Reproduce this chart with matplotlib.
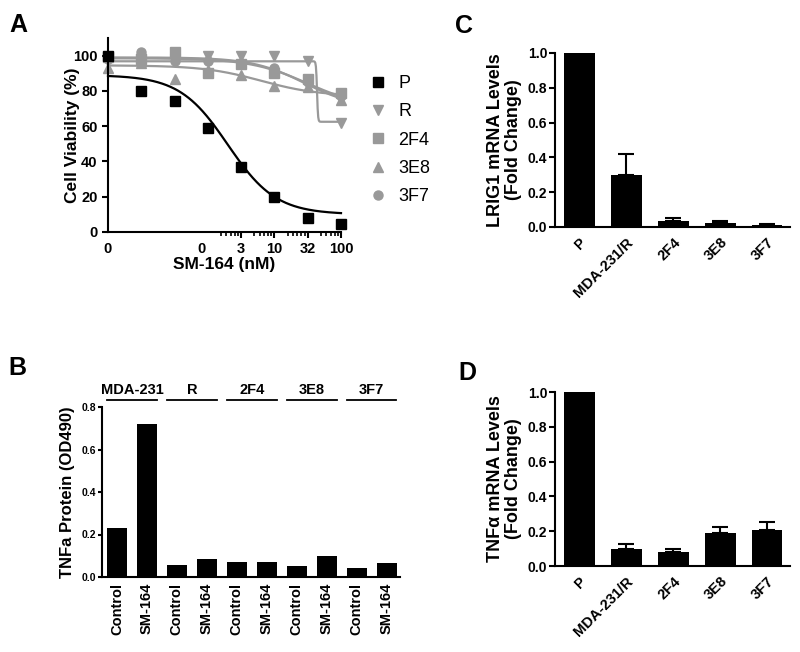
import numpy as np
import matplotlib
matplotlib.use("Agg")
import matplotlib.pyplot as plt
from matplotlib.lines import Line2D

plt.rcParams['font.family'] = ['Liberation Sans', 'DejaVu Sans']
plt.rcParams['font.weight'] = 'bold'
plt.rcParams['axes.labelweight'] = 'bold'
plt.rcParams['axes.linewidth'] = 1.5

BLACK = 'black'
GRAY = '#999999'

# ---- panel A: viability vs SM-164 (x in log10 nM, first point = no drug) ----
dose_log = [-1.5, -1.0, -0.5, 0.0, 0.5, 1.0, 1.5, 2.0]
viab_P = [100, 80, 74, 59, 37, 20, 8, 4.5]
viab_R = [97, 98, 98, 100, 100, 100, 97, 62]
viab_2F4 = [99, 98, 102, 90, 95, 90, 87, 79]
viab_3E8 = [93, 96, 87, 92, 89, 83, 82, 75]
viab_3F7 = [98, 102, 97, 97, 96, 93, 85, 77]

# fitted 4PL curves: top, bottom, logIC50, hill
fit_P = (89, 10, 0.3, 1.2)
fit_R = (96.8, 62.5, 1.64, 60)
fit_2F4 = (98.5, 70, 1.5, 1.0)
fit_3E8 = (94.5, 77, 0.8, 1.0)
fit_3F7 = (99, 70, 1.45, 1.1)

x_tick_pos = [-1.5, -0.1, 0.5, 1.0, 1.5, 2.0]
x_tick_lab = ['0', '0', '3', '10', '32', '100']

# ---- panel B: TNFa protein ----
cell_groups = ['MDA-231', 'R', '2F4', '3E8', '3F7']
treatments = ['Control', 'SM-164']
tnf_protein = [0.23, 0.72, 0.056, 0.085, 0.07, 0.07, 0.052, 0.099, 0.042, 0.066]

# ---- panels C and D: mRNA fold change ----
lines_cd = ['P', 'MDA-231/R', '2F4', '3E8', '3F7']
lrig1 = [1.0, 0.30, 0.033, 0.022, 0.01]
lrig1_err = [0, 0.12, 0.017, 0.012, 0.006]
tnfa_mrna = [1.0, 0.098, 0.08, 0.19, 0.205]
tnfa_err = [0, 0.027, 0.018, 0.035, 0.047]


def px_axes(fig, left, top, right, bottom):
    W, H = fig.get_size_inches() * fig.dpi
    return fig.add_axes([left / W, 1 - bottom / H, (right - left) / W,
                         (bottom - top) / H])


def style(ax):
    for s in ['top', 'right']:
        ax.spines[s].set_visible(False)
    ax.tick_params(direction='out', width=1.5, length=4, colors=BLACK)


def bold_ticks(ax):
    plt.setp(ax.get_xticklabels() + ax.get_yticklabels(), fontweight='bold')


def sigmoid(x, p):
    top, bot, ic, h = p
    return bot + (top - bot) / (1 + 10 ** ((x - ic) * h))


fig = plt.figure(figsize=(8, 6.52), dpi=100)

# ================= A =================
axA = px_axes(fig, 108, 38, 341, 232)
style(axA)
xs = np.linspace(-1.5, 2.0, 400)
series = [('P', viab_P, fit_P, BLACK, 's'),
          ('R', viab_R, fit_R, GRAY, 'v'),
          ('2F4', viab_2F4, fit_2F4, GRAY, 's'),
          ('3E8', viab_3E8, fit_3E8, GRAY, '^'),
          ('3F7', viab_3F7, fit_3F7, GRAY, 'o')]
for name, vals, fit, col, mk in series[::-1]:
    axA.plot(xs, sigmoid(xs, fit), color=col, lw=1.6, clip_on=False)
    axA.plot(dose_log, vals, ls='none', marker=mk, ms=6.5, color=col,
             mec=col, clip_on=False)
axA.set_xlim(-1.5, 2.0)
axA.set_ylim(0, 110)
axA.set_yticks([0, 20, 40, 60, 80, 100])
axA.set_xticks(x_tick_pos)
axA.set_xticklabels(x_tick_lab)
for i in (0, 1):
    axA.xaxis.get_major_ticks()[i].tick1line.set_visible(False)
minor = [np.log10(e * f) for e in [10 ** 0.5, 10, 10 ** 1.5, 100]
         for f in [0.5, 0.6, 0.7, 0.8, 0.9]]
axA.set_xticks(minor, minor=True)
axA.tick_params(axis='x', which='minor', length=3, width=1.2)
axA.tick_params(labelsize=10.5)
bold_ticks(axA)
axA.set_ylabel('Cell Viability (%)', fontsize=12.5)
axA.yaxis.set_label_coords(-0.12, 0.5)
axA.set_xlabel('SM-164 (nM)', fontsize=12.5)
axA.xaxis.set_label_coords(0.5, -0.13)

handles = [Line2D([], [], ls='none', marker=mk, ms=6.5, color=col, mec=col)
           for name, vals, fit, col, mk in series]
axA.legend(handles, [s[0] for s in series], loc='upper left',
           bbox_to_anchor=(355 / 800, 1 - 59 / 652),
           bbox_transform=fig.transFigure, frameon=False, handlelength=0.8,
           handletextpad=0.7, labelspacing=0.62,
           prop={'family': ['Liberation Sans'], 'weight': 'normal', 'size': 13})

# ================= B =================
axB = px_axes(fig, 102, 407, 400, 577)
style(axB)
xb = np.arange(len(tnf_protein))
axB.bar(xb, tnf_protein, width=0.667, color=BLACK)
axB.set_xlim(-0.5, 9.45)
axB.set_ylim(0, 0.8)
axB.set_yticks([0, 0.2, 0.4, 0.6, 0.8])
axB.set_yticklabels(['0.0', '0.2', '0.4', '0.6', '0.8'])
axB.tick_params(axis='y', labelsize=7.5, length=3, pad=1)
axB.set_xticks(xb)
axB.set_xticklabels(treatments * len(cell_groups), rotation=90, fontsize=10.5)
axB.tick_params(axis='x', length=0, pad=4)
bold_ticks(axB)
axB.set_ylabel('TNFa Protein (OD490)', fontsize=12)
axB.yaxis.set_label_coords(-0.09, 0.5)
for i, g in enumerate(cell_groups):
    c = 2 * i + 0.5
    axB.plot([c - 0.833, c + 0.833], [0.833, 0.833], color=BLACK, lw=1.3,
             clip_on=False)
    axB.text(c, 0.845, g, ha='center', va='bottom', fontsize=10.5,
             fontweight='bold')


# ================= C and D =================
def mrna_panel(top, bottom, vals, errs, ylabel):
    ax = px_axes(fig, 555, top, 790, bottom)
    style(ax)
    xc = np.arange(len(vals))
    ax.bar(xc, vals, width=0.66, color=BLACK,
           yerr=[np.zeros(len(errs)), errs], capsize=6,
           error_kw=dict(elinewidth=1.5, capthick=1.5, ecolor=BLACK))
    ax.set_xlim(-0.52, 4.49)
    ax.set_ylim(0, 1.0)
    ax.set_yticks(np.arange(0, 1.01, 0.2))
    ax.set_yticklabels(['0.0', '0.2', '0.4', '0.6', '0.8', '1.0'])
    ax.tick_params(axis='y', labelsize=10, length=4, pad=1.5)
    ax.set_xticks(xc)
    ax.set_xticklabels(lines_cd, rotation=45, ha='right',
                       rotation_mode='anchor', fontsize=10.5)
    ax.tick_params(axis='x', length=0, pad=6)
    bold_ticks(ax)
    ax.set_ylabel(ylabel, fontsize=13, linespacing=1.1)
    ax.yaxis.set_label_coords(-0.14, 0.5)
    return ax


mrna_panel(53, 227, lrig1, lrig1_err, 'LRIG1 mRNA Levels\n(Fold Change)')
mrna_panel(392, 566, tnfa_mrna, tnfa_err, 'TNF\u03b1 mRNA Levels\n(Fold Change)')

# panel letters
for lab, x, y in [('A', 9, 32), ('B', 8, 375), ('C', 455, 33), ('D', 458, 380)]:
    fig.text(x / 800, 1 - y / 652, lab, fontsize=18, fontweight='bold',
             ha='left', va='baseline')

fig.savefig('out.png', dpi=100)
